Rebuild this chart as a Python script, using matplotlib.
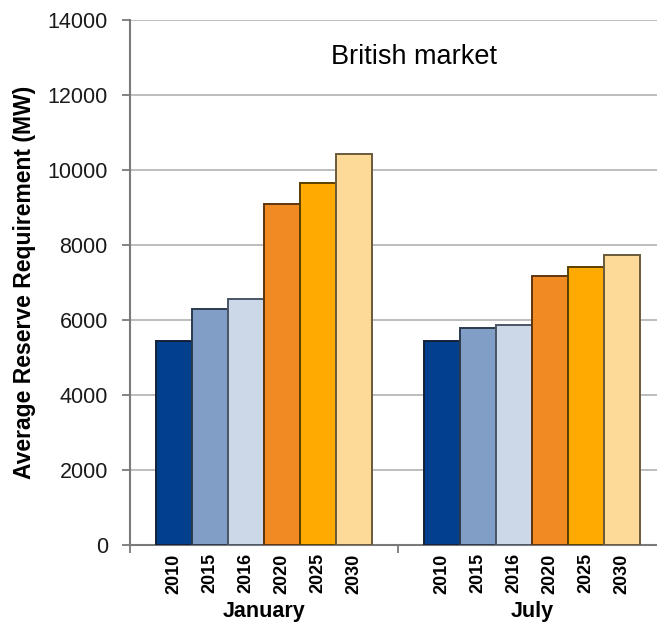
import numpy as np
import matplotlib
matplotlib.use('Agg')
import matplotlib.pyplot as plt
from matplotlib.transforms import blended_transform_factory

plt.rcParams['font.family'] = ['Liberation Sans', 'DejaVu Sans']

months = ['January', 'July']
years = ['2010', '2015', '2016', '2020', '2025', '2030']
january = [5450, 6300, 6560, 9100, 9660, 10420]
july = [5450, 5780, 5870, 7170, 7420, 7720]

colors = ['#023f8c', '#819fc6', '#ccd8e8', '#f28a24', '#ffaa00', '#fdda98']
edges = ['#142238', '#2c3a4e', '#4a5566', '#5e3510', '#5a4000', '#6a5a3a']

fig = plt.figure(figsize=(6.57, 6.22), dpi=100)
ax = fig.add_axes([130 / 657, 77 / 622, 536 / 657, 525 / 622])

w = 0.1343
vals = [january, july]
minor_pos = []
minor_lab = []
for g, series in enumerate(vals):
    for i, v in enumerate(series):
        x = g + (i - 2.5) * w
        ax.bar(x, v, width=w, color=colors[i], edgecolor=edges[i], linewidth=1.4, zorder=3)
        minor_pos.append(x)
        minor_lab.append(years[i])

ax.set_xlim(-0.5, 1.5)
ax.set_ylim(0, 14000)
ax.set_yticks(np.arange(0, 14001, 2000))
ax.yaxis.grid(True, color='#b8b8b8', linewidth=1.3, zorder=0)
ax.set_axisbelow(True)

for s in ['top', 'right']:
    ax.spines[s].set_visible(False)
ax.spines['left'].set_color('#7a7a7a')
ax.spines['left'].set_linewidth(1.5)
ax.spines['bottom'].set_color('#7a7a7a')
ax.spines['bottom'].set_linewidth(1.5)

ax.tick_params(axis='y', direction='out', length=6, width=1.3, color='#7a7a7a',
               labelsize=15.5, pad=10, labelcolor='#1a1a1a')

ax.set_xticks([-0.5, 0.5, 1.5])
ax.set_xticklabels([])
ax.tick_params(axis='x', which='major', direction='out', length=6, width=1.3, color='#7a7a7a')
ax.set_xticks(minor_pos, minor=True)
ax.set_xticklabels(minor_lab, minor=True, rotation=90, fontsize=13, fontweight='bold')
ax.tick_params(axis='x', which='minor', length=0, pad=6)

trans = blended_transform_factory(ax.transData, ax.transAxes)
for g, m in enumerate(months):
    ax.annotate(m, xy=(g, 0), xycoords=trans, xytext=(0, -40), textcoords='offset points',
                ha='center', va='top', fontsize=15.5, fontweight='bold')

ax.set_ylabel('Average Reserve Requirement (MW)', fontsize=16.5, fontweight='bold', labelpad=8)
ax.text(0.53, 0.93, 'British market', transform=ax.transAxes, ha='center', va='center',
        fontsize=19.5)

fig.savefig('out.png', dpi=100)
